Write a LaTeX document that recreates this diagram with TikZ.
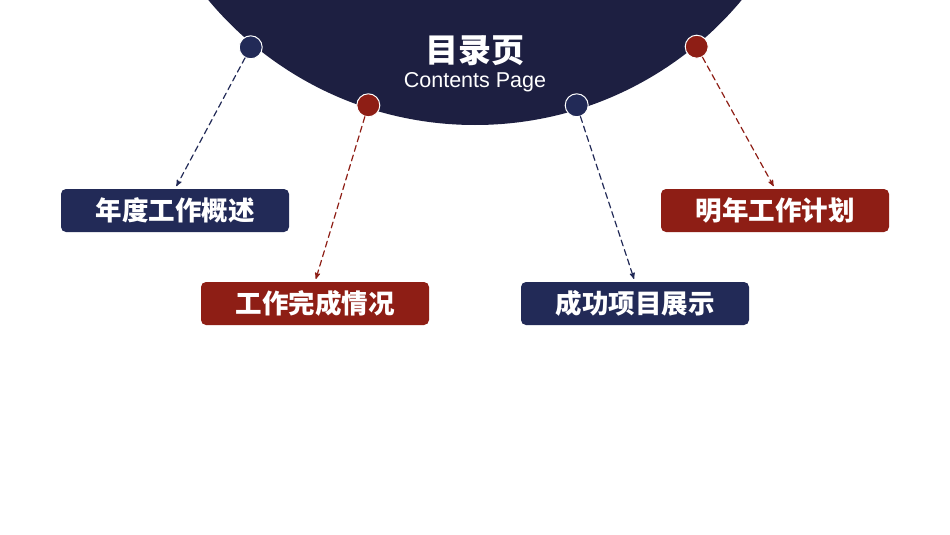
\documentclass[tikz,border=0pt]{standalone}
\usepackage{fontspec}
\setmainfont{Liberation Sans}
\newfontfamily\cjk{Noto Sans CJK SC}
\usetikzlibrary{arrows}
\definecolor{navy}{HTML}{1D1F41}
\definecolor{navybox}{HTML}{222A57}
\definecolor{darkred}{HTML}{8E1E15}

\begin{document}
\begin{tikzpicture}[line cap=round,line join=round,>=stealth',x=1pt,y=-1pt]
\tikzset{
  dot/.style={circle,draw=white,line width=1pt,minimum size=23pt,inner sep=0pt},
  item/.style={rectangle,rounded corners=5pt,minimum width=228pt,minimum height=43pt,
    inner sep=0pt,text=white,font=\cjk\bfseries\fontsize{26.5}{26.5}\selectfont},
  link/.style={dashed,dash pattern=on 6pt off 4pt,line width=1.2pt,->,shorten >=3pt}
}
\useasboundingbox (0,0) rectangle (950,535);
\fill[white] (0,0) rectangle (950,535);
\begin{scope}
\clip (0,0) rectangle (950,535);
\fill[navy] (475,-222) circle [radius=347];
\end{scope}
%titel
\node[text=white,font=\cjk\bfseries\fontsize{33}{33}\selectfont] (title) at (475,51) {目录页};
\node[text=white,font=\fontsize{21.5}{21.5}\selectfont,anchor=base] (subtitle) at (475,87.5) {Contents Page};
%punkte
\node[dot,fill=navybox] (d1) at (250.7,47.3) {};
\node[dot,fill=darkred] (d2) at (368.3,105.3) {};
\node[dot,fill=navybox] (d3) at (576.7,105.3) {};
\node[dot,fill=darkred] (d4) at (696.7,46.7) {};
%kaesten
\node[item,fill=navybox] (b1) at (175,210.5) {年度工作概述};
\node[item,fill=darkred] (b2) at (315,303.5) {工作完成情况};
\node[item,fill=navybox] (b3) at (635,303.5) {成功项目展示};
\node[item,fill=darkred] (b4) at (775,210.5) {明年工作计划};
%pfeile
\draw[link,color=navybox] (d1) -- (b1.north);
\draw[link,color=darkred] (d2) -- (b2.north);
\draw[link,color=navybox] (d3) -- (b3.north);
\draw[link,color=darkred] (d4) -- (b4.north);
\end{tikzpicture}
\end{document}
